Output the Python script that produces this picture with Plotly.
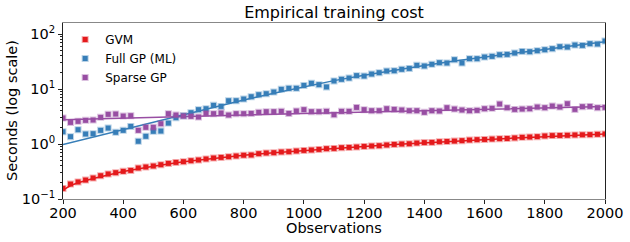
import plotly.graph_objects as go

observations = [200, 225, 250, 275, 300, 325, 350, 375, 400, 425, 450, 475, 500, 525, 550, 575,
                600, 625, 650, 675, 700, 725, 750, 775, 800, 825, 850, 875, 900, 925, 950, 975,
                1000, 1025, 1050, 1075, 1100, 1125, 1150, 1175, 1200, 1225, 1250, 1275, 1300,
                1325, 1350, 1375, 1400, 1425, 1450, 1475, 1500, 1525, 1550, 1575, 1600, 1625,
                1650, 1675, 1700, 1725, 1750, 1775, 1800, 1825, 1850, 1875, 1900, 1925, 1950,
                1975, 2000]

gvm = [0.156, 0.187, 0.204, 0.221, 0.241, 0.265, 0.285, 0.301, 0.318, 0.331, 0.366, 0.382, 0.398,
       0.420, 0.444, 0.463, 0.477, 0.497, 0.512, 0.534, 0.556, 0.571, 0.587, 0.605, 0.625,
       0.631, 0.667, 0.686, 0.695, 0.716, 0.724, 0.746, 0.765, 0.778, 0.798, 0.822, 0.832,
       0.857, 0.867, 0.882, 0.904, 0.920, 0.931, 0.959, 0.983, 1.00, 1.01, 1.04, 1.06,
       1.07, 1.10, 1.11, 1.13, 1.15, 1.18, 1.20, 1.21, 1.23, 1.25, 1.26, 1.29, 1.32, 1.34,
       1.36, 1.40, 1.42, 1.43, 1.44, 1.46, 1.47, 1.48, 1.50, 1.52]

full_gp = [1.67, 1.36, 1.82, 1.52, 1.54, 1.77, 1.95, 1.63, 1.77, 2.09, 1.12, 1.38, 1.70, 1.72,
           2.40, 3.01, 3.27, 3.71, 4.21, 4.38, 5.04, 4.83, 6.12, 6.12, 6.57,
           7.24, 7.87, 8.21, 8.81, 9.85, 10.3, 10.3, 11.6, 12.7, 12.0, 10.9, 14.0, 15.0, 15.8,
           17.5, 17.2, 18.7, 19.8, 21.2, 21.5, 22.8, 23.7, 26.9, 26.2,
           28.1, 30.1, 29.7, 34.1, 29.7, 35.6, 35.6, 38.1, 39.2, 42.0, 42.6, 45.1, 48.3, 47.7,
           49.7, 51.8, 54.1, 58.8, 57.9, 63.0, 62.1, 66.7, 65.8, 74.5]

sparse_gp = [2.97, 2.47, 2.58, 2.69, 2.73, 3.05, 3.46, 3.51, 3.22, 3.27, 1.77, 2.01, 2.01, 2.34,
             3.56, 3.36, 3.22, 3.18, 3.09, 3.60, 3.56, 3.66, 3.36, 3.56, 3.56,
             3.60, 3.76, 3.87, 3.87, 3.92, 3.60, 3.98, 4.21, 3.87, 3.87, 3.92, 3.41, 3.92, 3.92,
             4.63, 4.21, 4.03, 4.03, 4.38, 4.26, 4.15, 4.03, 4.03, 3.76,
             4.03, 3.98, 4.57, 4.32, 4.15, 4.03, 4.09, 4.38, 4.45, 5.33, 4.57, 4.26, 4.32, 4.38,
             4.70, 4.57, 4.90, 4.70, 5.40, 4.26, 4.77, 4.83, 4.57, 4.63]

fit_x = [200, 225, 250, 300, 400, 500, 600, 700, 800, 900, 1000, 1100, 1200, 1300, 1400,
         1500, 1600, 1700, 1800, 1900, 2000]
gvm_fit = [0.145, 0.176, 0.197, 0.236, 0.315, 0.395, 0.475, 0.55, 0.625, 0.695, 0.765, 0.835,
           0.905, 0.98, 1.055, 1.13, 1.21, 1.285, 1.36, 1.44, 1.515]
full_gp_fit = [0.98, 1.06, 1.14, 1.33, 1.8, 2.45, 3.35, 4.6, 6.3, 8.4, 11.0, 14.2, 17.8, 22.0,
               26.8, 32.3, 38.3, 45.0, 52.5, 61.5, 72.5]
sparse_gp_fit = [2.77, 2.79, 2.81, 2.86, 2.96, 3.06, 3.16, 3.26, 3.37, 3.48, 3.59, 3.70, 3.82,
                 3.93, 4.05, 4.17, 4.29, 4.41, 4.53, 4.66, 4.80]

x_tick_vals = [200, 400, 600, 800, 1000, 1200, 1400, 1600, 1800, 2000]
y_tick_vals = [0.1, 1, 10, 100]
y_tick_text = ["10<sup>\u22121</sup>", "10<sup>0</sup>", "10<sup>1</sup>", "10<sup>2</sup>"]
y_minor_vals = [0.2, 0.3, 0.4, 0.5, 0.6, 0.7, 0.8, 0.9, 2, 3, 4, 5, 6, 7, 8, 9,
                20, 30, 40, 50, 60, 70, 80, 90]

series = [
    ("GVM", gvm, gvm_fit, "#e41a1c", "rgba(228,26,28,0.35)"),
    ("Full GP (ML)", full_gp, full_gp_fit, "#377eb8", "rgba(55,126,184,0.35)"),
    ("Sparse GP", sparse_gp, sparse_gp_fit, "#984ea3", "rgba(152,78,163,0.35)"),
]

FONT = "DejaVu Sans"
W, H = 630, 242
fig = go.Figure()
for name, vals, fit, col, halo in series:
    fig.add_trace(go.Scatter(x=fit_x, y=fit, mode="lines", line=dict(color=col, width=1.5),
                             showlegend=False, hoverinfo="skip"))
for name, vals, fit, col, halo in series:
    fig.add_trace(go.Scatter(x=observations, y=vals, mode="markers", name=name,
                             marker=dict(symbol="square", size=5, color=col,
                                         line=dict(color=halo, width=2))))

fig.update_layout(
    width=W, height=H,
    margin=dict(l=63, r=25, t=23, b=43, autoexpand=False),
    paper_bgcolor="white", plot_bgcolor="white",
    font=dict(family=FONT, size=14.5, color="black"),
    title=dict(text="Empirical training cost", x=0.5, xref="paper", xanchor="center",
               y=1 - 12 / H, yref="container", yanchor="middle",
               font=dict(family=FONT, size=16, color="black")),
    legend=dict(x=0.004, y=0.989, xanchor="left", yanchor="top", bgcolor="rgba(0,0,0,0)",
                font=dict(family=FONT, size=12, color="black"), tracegroupgap=0),
    showlegend=True,
    annotations=[
        dict(text="Observations", xref="paper", yref="paper", x=0.5,
             y=-(228 - 199) / 176, xanchor="center", yanchor="middle", showarrow=False,
             font=dict(family=FONT, size=14.5, color="black")),
        dict(text="Seconds (log scale)", xref="paper", yref="paper", x=-(63 - 12) / 542,
             y=0.5, xanchor="center", yanchor="middle", textangle=-90, showarrow=False,
             font=dict(family=FONT, size=14.5, color="black")),
    ],
)
fig.update_xaxes(
    range=[200, 2000], tickvals=x_tick_vals, ticks="outside", ticklen=4, tickwidth=1,
    tickcolor="#222", showline=True, linecolor="#888", linewidth=1, mirror=True,
    showgrid=False, zeroline=False, ticklabelstandoff=-3, automargin=False,
)
fig.update_yaxes(
    type="log", range=[-1, 2.2], tickvals=y_tick_vals, ticktext=y_tick_text,
    ticks="outside", ticklen=4, tickwidth=1, tickcolor="#222",
    minor=dict(tickvals=y_minor_vals, ticks="outside", ticklen=2, tickwidth=0.7,
               tickcolor="#222", showgrid=False),
    showline=True, linecolor="#222", linewidth=1, mirror=True, showgrid=False,
    zeroline=False, automargin=False,
)

fig.write_html("out.html", config={"displayModeBar": False},
               post_script="document.body.style.margin='0';document.body.style.overflow='hidden';")
